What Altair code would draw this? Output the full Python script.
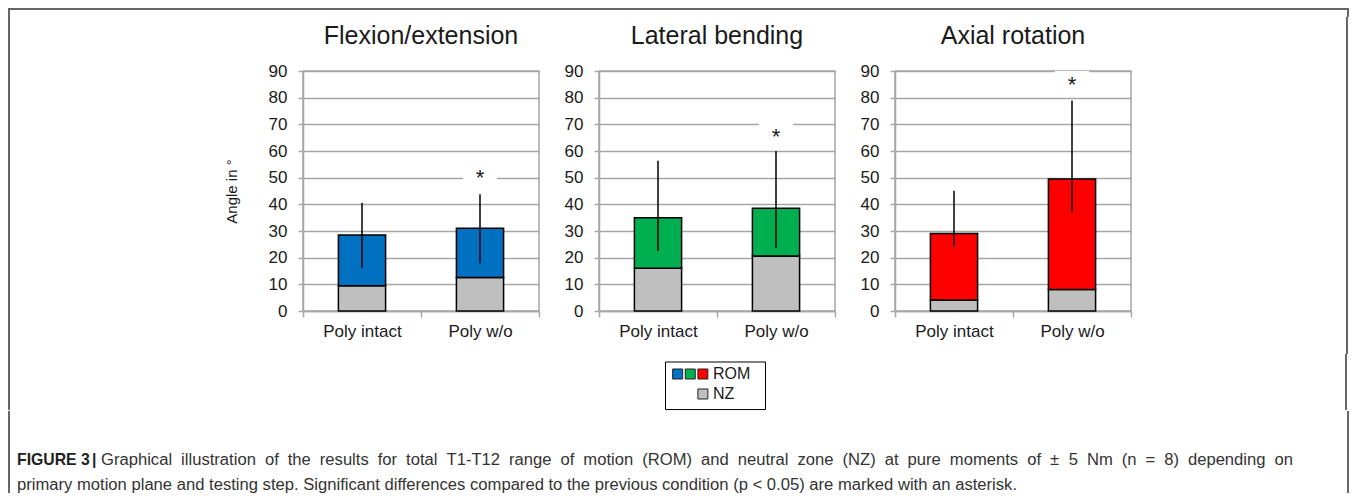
import altair as alt
import pandas as pd

# ---------------- data ----------------
motions = ["Flexion/extension", "Lateral bending", "Axial rotation"]
conditions = ["Poly intact", "Poly w/o"]
nz_values = [[9.5, 12.6], [16.0, 20.6], [4.1, 8.1]]
rom_values = [[28.5, 31.0], [35.0, 38.5], [29.1, 49.5]]
err_low = [[16.0, 17.9], [22.5, 23.5], [24.1, 37.0]]
err_high = [[40.6, 43.8], [56.3, 60.0], [45.1, 78.9]]
significant = [[False, True], [False, True], [False, True]]
star_level = [51.0, 66.5, 86.0]
y_ticks = [0, 10, 20, 30, 40, 50, 60, 70, 80, 90]
rom_colors = ["#0070C0", "#00B050", "#FF0000"]
nz_color = "#BFBFBF"
legend_swatch_cols = [1, 2, 3, 3]
legend_swatch_rows = [1.667, 1.667, 1.667, 3.333]
legend_swatch_colors = ["#0070C0", "#00B050", "#FF0000", "#BFBFBF"]
legend_labels = ["ROM", "NZ"]
legend_label_rows = [1.667, 3.333]
caption_bold = "FIGURE 3"
caption_bar = "|"
caption_line1 = ("Graphical illustration of the results for total T1-T12 range of motion (ROM) and neutral zone (NZ) "
                 "at pure moments of \u00b1 5 Nm (n = 8) depending on")
caption_line2 = ("primary motion plane and testing step. Significant differences compared to the previous "
                 "condition (p < 0.05) are marked with an asterisk.")

FONT = "Liberation Sans"
GRID = "#A6A6A6"
TXT = "#1a1a1a"
FRAME = "#666666"

PW, PH = 236, 240
FW = 1341
T0 = 9       # top strip height
E = 54       # extension of row-1 edge above the plot tops
H1 = 283     # row-1 edge height below the plot tops
H2 = 56      # legend row height
H3 = 82      # caption row height
SP = 22      # spacing between panels
L1 = 193     # left spacer of the panel row
R1 = FW - 1148   # right spacer of the panel row

# approximate Arial / Liberation Sans advance widths (per 1000 em) for caption layout
_W = {" ": 278, "(": 333, ")": 333, "-": 333, ".": 278, "<": 584, "=": 584, "\u00b1": 584, "|": 260,
      "A": 667, "C": 722, "E": 667, "F": 611, "G": 778, "I": 278, "M": 833, "N": 722, "O": 778,
      "R": 722, "S": 667, "T": 611, "U": 722, "Z": 611,
      "a": 556, "b": 556, "c": 500, "d": 556, "e": 556, "f": 278, "g": 556, "h": 556, "i": 222,
      "j": 222, "k": 500, "l": 222, "m": 833, "n": 556, "o": 556, "p": 556, "q": 556, "r": 333,
      "s": 500, "t": 278, "u": 556, "v": 500, "w": 722, "x": 500, "y": 500, "z": 500}


def text_em(s):
    return sum(_W.get(c, 556) for c in s) / 1000.0


CAP_X0 = 9
CAP_BAR_X = 84
CAP_START1 = 93
CAP_LINE2_W = 1001          # measured width of the (unjustified) last caption line
CAP_LINE1_END = 1285        # right edge of the justified first line
CAP_SIZE = CAP_LINE2_W / text_em(caption_line2)


def panel(i):
    df = pd.DataFrame({
        "condition": conditions,
        "nz": nz_values[i],
        "rom": rom_values[i],
        "lo": err_low[i],
        "hi": err_high[i],
        "sig": significant[i],
    })
    df["star"] = star_level[i]
    yscale = alt.Scale(domain=[0, 90], nice=False, zero=True)
    x = alt.X(
        "condition:N", sort=conditions,
        scale=alt.Scale(paddingInner=0, paddingOuter=0),
        axis=alt.Axis(title=None, labelAngle=0, labelFontSize=17, labelFont=FONT, labelColor=TXT,
                      labelPadding=6, tickBand="extent", tickSize=6, tickColor=GRID, tickWidth=1.5,
                      domainColor=GRID, domainWidth=1.5, grid=False),
    )
    yaxis = alt.Axis(values=y_ticks, grid=True, gridColor=GRID, gridWidth=1.5, labelOverlap=False,
                     domainColor=GRID, domainWidth=1.5, tickColor=GRID, tickWidth=1.5, tickSize=5,
                     labelFontSize=17, labelFont=FONT, labelColor=TXT, labelPadding=11,
                     title="Angle in \u00b0" if i == 0 else None,
                     titleFont=FONT, titleFontSize=15, titleFontWeight="normal", titleColor=TXT,
                     titlePadding=29)
    base = alt.Chart(df)
    nz_bar = base.mark_bar(width=alt.RelativeBandSize(0.4), color=nz_color, stroke="#000",
                           strokeWidth=1.5).encode(
        x=x, y=alt.Y("nz:Q", scale=yscale, axis=yaxis), y2=alt.datum(0))
    rom_bar = base.mark_bar(width=alt.RelativeBandSize(0.4), color=rom_colors[i], stroke="#000",
                            strokeWidth=1.5).encode(
        x=x, y=alt.Y("rom:Q", scale=yscale, axis=yaxis), y2="nz:Q")
    err = base.mark_rule(color="#000", strokeWidth=1.5).encode(
        x=x, y=alt.Y("lo:Q", scale=yscale, axis=yaxis), y2="hi:Q")
    sig = base.transform_filter("datum.sig").transform_calculate(
        blo="datum.star - 3.6", bhi="min(datum.star + 4.6, 90)")
    box = sig.mark_bar(width=34, color="white").encode(
        x=x, y=alt.Y("blo:Q", scale=yscale, axis=yaxis), y2="bhi:Q")
    star = sig.mark_text(text="*", fontSize=22, font=FONT, baseline="middle", dy=3,
                         color=TXT).encode(x=x, y=alt.Y("star:Q", scale=yscale, axis=yaxis))
    return alt.layer(nz_bar, rom_bar, err, box, star).properties(
        width=PW, height=PH,
        title=alt.TitleParams(text=motions[i], fontSize=25, font=FONT, fontWeight="normal",
                              anchor="middle", frame="group", offset=13, color=TXT),
        view=alt.ViewBackground(stroke=GRID, strokeWidth=1.5),
    )


ONE = pd.DataFrame({"a": [0]})


def bar_piece(x0, x1, y0, y1):
    return alt.Chart(ONE).mark_rect(color=FRAME, opacity=1).encode(
        x=alt.value(x0), x2=alt.value(x1), y=alt.value(y0), y2=alt.value(y1))


def edged(w, h, left=False, right=False, top=False, y_from=0):
    layers = []
    if left:
        layers.append(bar_piece(0, 2, y_from, h))
    if right:
        layers.append(bar_piece(w - 2, w, y_from, h))
    if top:
        layers.append(bar_piece(0, w, 0, 2))
    return layers


def spacer(w, h, left=False, right=False, y_from=0):
    layers = edged(w, h, left=left, right=right, y_from=y_from)
    return alt.layer(*layers).properties(width=w, height=h, view=alt.ViewBackground(stroke=None))


# row 0 : top strip of the figure frame
row0 = alt.layer(*edged(FW, T0, left=True, right=True, top=True)).properties(
    width=FW, height=T0, view=alt.ViewBackground(stroke=None))

# row 1 : panels
row1 = alt.hconcat(spacer(L1, H1, left=True, y_from=-E), panel(0), panel(1), panel(2),
                   spacer(R1, H1, right=True, y_from=-E), spacing=SP)

# row 2 : legend
sw = pd.DataFrame({"col": legend_swatch_cols, "row": legend_swatch_rows, "c": legend_swatch_colors})
lt = pd.DataFrame({"col": [3.8, 3.8], "row": legend_label_rows, "t": legend_labels})
lbox = pd.DataFrame({"x0": [0.04], "x1": [7.96], "y0": [0.667], "y1": [4.63]})
lx = alt.Scale(domain=[0, 8], nice=False, zero=False)
ly = alt.Scale(domain=[0, 4.667], nice=False, zero=False, reverse=True)
leg_box = alt.Chart(lbox).mark_rect(fill="white", stroke="#000", strokeWidth=1).encode(
    x=alt.X("x0:Q", scale=lx, axis=None), x2="x1:Q",
    y=alt.Y("y0:Q", scale=ly, axis=None), y2="y1:Q")
leg_sw = alt.Chart(sw).mark_square(size=100, stroke="#222", strokeWidth=1, opacity=1).encode(
    x=alt.X("col:Q", scale=lx, axis=None), y=alt.Y("row:Q", scale=ly, axis=None),
    color=alt.Color("c:N", scale=None))
leg_tx = alt.Chart(lt).mark_text(align="left", baseline="middle", fontSize=16, font=FONT,
                                 color=TXT).encode(
    x=alt.X("col:Q", scale=lx, axis=None), y=alt.Y("row:Q", scale=ly, axis=None), text="t:N")
legend = alt.layer(leg_box, leg_sw, leg_tx).properties(
    width=101, height=H2, view=alt.ViewBackground(stroke=None))
row2 = alt.hconcat(spacer(657, H2, left=True), legend, spacer(FW - 760, H2, right=True), spacing=0)

# row 3 : caption (first line justified word by word, as in the reference)
words = caption_line1.split(" ")
nat = [text_em(w) * CAP_SIZE for w in words]
gap = (CAP_LINE1_END - CAP_START1 - sum(nat)) / (len(words) - 1)
xs, cur = [], CAP_START1
for wdt in nat:
    xs.append(cur)
    cur += wdt + gap
wdf = pd.DataFrame({"w": words, "x": xs})
cx = alt.Scale(domain=[0, FW], range=[0, FW], nice=False, zero=False)
cap_b = alt.Chart(pd.DataFrame({"t": [caption_bold, caption_bar], "x": [CAP_X0, CAP_BAR_X]})).mark_text(
    align="left", baseline="middle", fontSize=CAP_SIZE * 0.95, font=FONT, fontWeight="bold",
    color="#222").encode(x=alt.X("x:Q", scale=cx, axis=None), y=alt.value(49), text="t:N")
cap1 = alt.Chart(wdf).mark_text(
    align="left", baseline="middle", fontSize=CAP_SIZE, font=FONT, color="#333").encode(
    x=alt.X("x:Q", scale=cx, axis=None), y=alt.value(49), text="w:N")
cap2 = alt.Chart(pd.DataFrame({"t": [caption_line2], "x": [CAP_X0]})).mark_text(
    align="left", baseline="middle", fontSize=CAP_SIZE, font=FONT, color="#333").encode(
    x=alt.X("x:Q", scale=cx, axis=None), y=alt.value(74), text="t:N")
row3 = alt.layer(*edged(FW, H3, left=True, right=True), cap_b, cap1, cap2).properties(
    width=FW, height=H3, view=alt.ViewBackground(stroke=None))

chart = alt.vconcat(row0, row1, row2, row3, spacing=0).properties(
    padding={"left": 0, "top": 0, "right": 0, "bottom": 0}, background="white")

chart.save("out.html", embed_options={"renderer": "svg", "actions": False})
